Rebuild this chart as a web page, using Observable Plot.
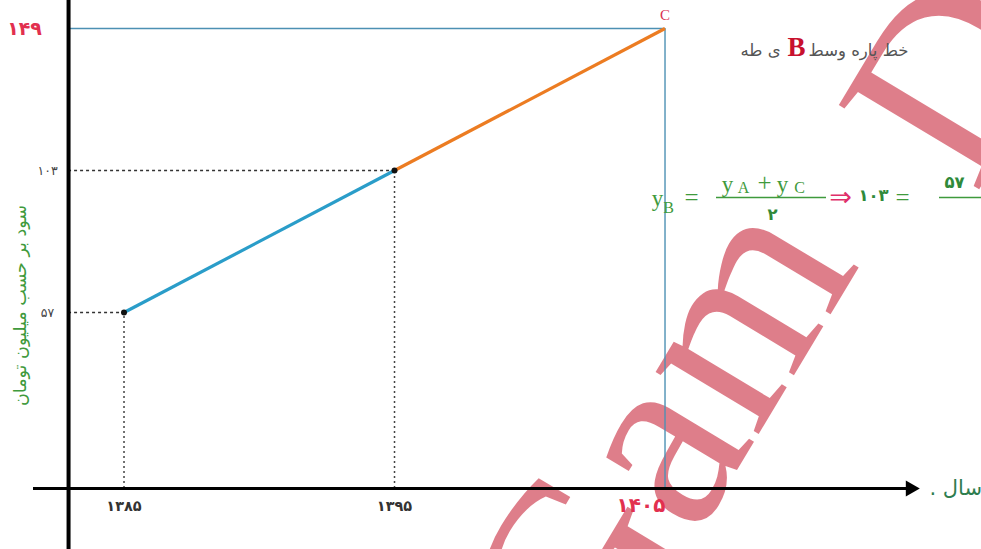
<!DOCTYPE html>
<html>
<head>
<meta charset="utf-8">
<script src="https://cdn.jsdelivr.net/npm/d3@7"></script>
<script src="https://cdn.jsdelivr.net/npm/@observablehq/plot@0.6"></script>
<style>
  html, body { margin: 0; padding: 0; background: #fff; }
  #chart svg { display: block; }
</style>
</head>
<body>
<div id="chart"></div>
<script>
// ---- data ----
const years = [1385, 1395, 1405];
const profits = [57, 103, 149];
const pointNames = ["A", "B", "C"];
const segmentColors = ["#2a9dc9", "#ec7c22"];
const yTitle = "سود بر حسب میلیون تومان";
const xTitle = ". سال";
const noteRight = "خط پاره وسط";
const noteLeft = "ی طه";

const faDigits = "۰۱۲۳۴۵۶۷۸۹";
const toFa = n => String(n).replace(/\d/g, d => faDigits[d]);

// ---- frame ----
const W = 981, H = 549;
const XDOM = [1380.434, 1416.70];
const YDOM = [-19.76, 158.07];
const axisYear = 1382.95;          // where the vertical axis sits
const px2x = p => XDOM[0] + p * (XDOM[1] - XDOM[0]) / W;
const py2y = p => YDOM[1] - p * (YDOM[1] - YDOM[0]) / H;

const pts = years.map((x, i) => ({x, y: profits[i], name: pointNames[i]}));
const segs = pts.slice(0, -1).map((p, i) => ({x1: p.x, y1: p.y, x2: pts[i + 1].x, y2: pts[i + 1].y, c: segmentColors[i]}));
const inner = pts.slice(0, -1);
const last = pts[pts.length - 1];

const ann = (list, opts) => Plot.text(list, {
  x: d => px2x(d.px), y: d => py2y(d.py), text: d => d.t,
  textAnchor: "middle", lineAnchor: "middle", ...opts
});

const green = "#3f9a3c";
const serif = "Liberation Serif, DejaVu Serif, serif";
const fa = "DejaVu Sans, sans-serif";
const wm = {rotate: -59, fontFamily: serif, fill: "#c8283c", fillOpacity: 0.6, textAnchor: "start", lineAnchor: "bottom"};

const chart = Plot.plot({
  width: W, height: H,
  marginTop: 0, marginRight: 0, marginBottom: 0, marginLeft: 0,
  x: {domain: XDOM, axis: null},
  y: {domain: YDOM, axis: null},
  style: {background: "#fff", overflow: "hidden"},
  marks: [
    // watermark
    ann([{px: 598, py: 700, t: "Gam"}], {...wm, fontSize: 262}),
    ann([{px: 975, py: 195, t: "D"}], {...wm, fontSize: 250}),
    // guide lines (dashed)
    Plot.ruleY(inner, {y: "y", x1: axisYear, x2: "x", stroke: "#333", strokeWidth: 1.5, strokeDasharray: "3,3"}),
    Plot.ruleX(inner, {x: "x", y1: 0, y2: "y", stroke: "#444", strokeWidth: 1.5, strokeDasharray: "2,3"}),
    // blue frame to C
    Plot.ruleY([last], {y: "y", x1: axisYear, x2: "x", stroke: "#4d90b3", strokeWidth: 1.6}),
    Plot.ruleX([last], {x: "x", y1: 0, y2: "y", stroke: "#4d90b3", strokeWidth: 1.4}),
    // axes
    Plot.ruleX([axisYear], {stroke: "#000", strokeWidth: 4}),
    Plot.ruleY([0], {x1: px2x(33), x2: px2x(908), stroke: "#000", strokeWidth: 3}),
    Plot.dot([{x: px2x(910), y: 0}], {x: "x", y: "y", symbol: "triangle", rotate: 90, r: 6, fill: "#000"}),
    // segments
    Plot.link(segs, {x1: "x1", y1: "y1", x2: "x2", y2: "y2", stroke: "c", strokeWidth: 3.2}),
    Plot.dot(inner, {x: "x", y: "y", r: 3, fill: "#111"}),
    // tick labels
    Plot.text(inner, {x: "x", y: 0, text: d => toFa(d.x), dy: 18, fontSize: 14.5, fontWeight: "bold", fill: "#333", fontFamily: fa}),
    Plot.text([last], {x: "x", y: 0, text: d => toFa(d.x), dx: -24, dy: 17, fontSize: 20, fontWeight: "bold", fill: "#e2304f", fontFamily: fa}),
    Plot.text(inner, {x: axisYear, y: "y", text: d => toFa(d.y), dx: -21, fontSize: 12.5, fill: "#444", fontFamily: fa}),
    Plot.text([last], {x: axisYear, y: "y", text: d => toFa(d.y), dx: -44, fontSize: 19, fontWeight: "bold", fill: "#e2304f", fontFamily: fa}),
    Plot.text([last], {x: "x", y: "y", text: "name", dy: -13, fontSize: 15, fill: "#d9304f", fontFamily: serif}),
    // axis titles
    ann([{px: 20, py: 305, t: yTitle}], {rotate: -90, fontSize: 17.5, fill: green, fontFamily: fa}),
    ann([{px: 929, py: 488, t: xTitle}], {textAnchor: "start", fontSize: 21, fill: "#2e7d4f", fontFamily: fa}),
    // note text
    ann([{px: 760, py: 50, t: noteLeft}, {px: 858, py: 50, t: noteRight}], {fontSize: 16.5, fill: "#555", fontFamily: fa}),
    ann([{px: 796, py: 47, t: "B"}], {fontSize: 27, fontWeight: "bold", fill: "#c8102e", fontFamily: serif}),
    // formula
    ann([{px: 657, py: 198, t: "y"}, {px: 727, py: 184, t: "y"}, {px: 782, py: 184, t: "y"}], {fontSize: 23, fill: green, fontFamily: serif}),
    ann([{px: 668, py: 207, t: "B"}, {px: 743, py: 187, t: "A"}, {px: 799, py: 187, t: "C"}], {fontSize: 16, fill: green, fontFamily: serif}),
    ann([{px: 691, py: 197, t: "="}, {px: 764, py: 182, t: "+"}, {px: 902, py: 197, t: "="}], {fontSize: 25, fill: green, fontFamily: serif}),
    Plot.ruleY([py2y(197)], {x1: px2x(716), x2: px2x(826), stroke: green, strokeWidth: 1.5}),
    Plot.ruleY([py2y(197)], {x1: px2x(939), x2: px2x(981), stroke: green, strokeWidth: 1.5}),
    ann([{px: 772, py: 214, t: toFa(2)}, {px: 873, py: 195, t: toFa(profits[1])}, {px: 954, py: 182, t: toFa(profits[0])}], {fontSize: 16.5, fontWeight: "bold", fill: "#2f8a3a", fontFamily: fa}),
    ann([{px: 840, py: 197, t: "⇒"}], {fontSize: 27, fill: "#e0306a", fontFamily: "DejaVu Sans, sans-serif"})
  ]
});
document.getElementById("chart").append(chart);
</script>
</body>
</html>
